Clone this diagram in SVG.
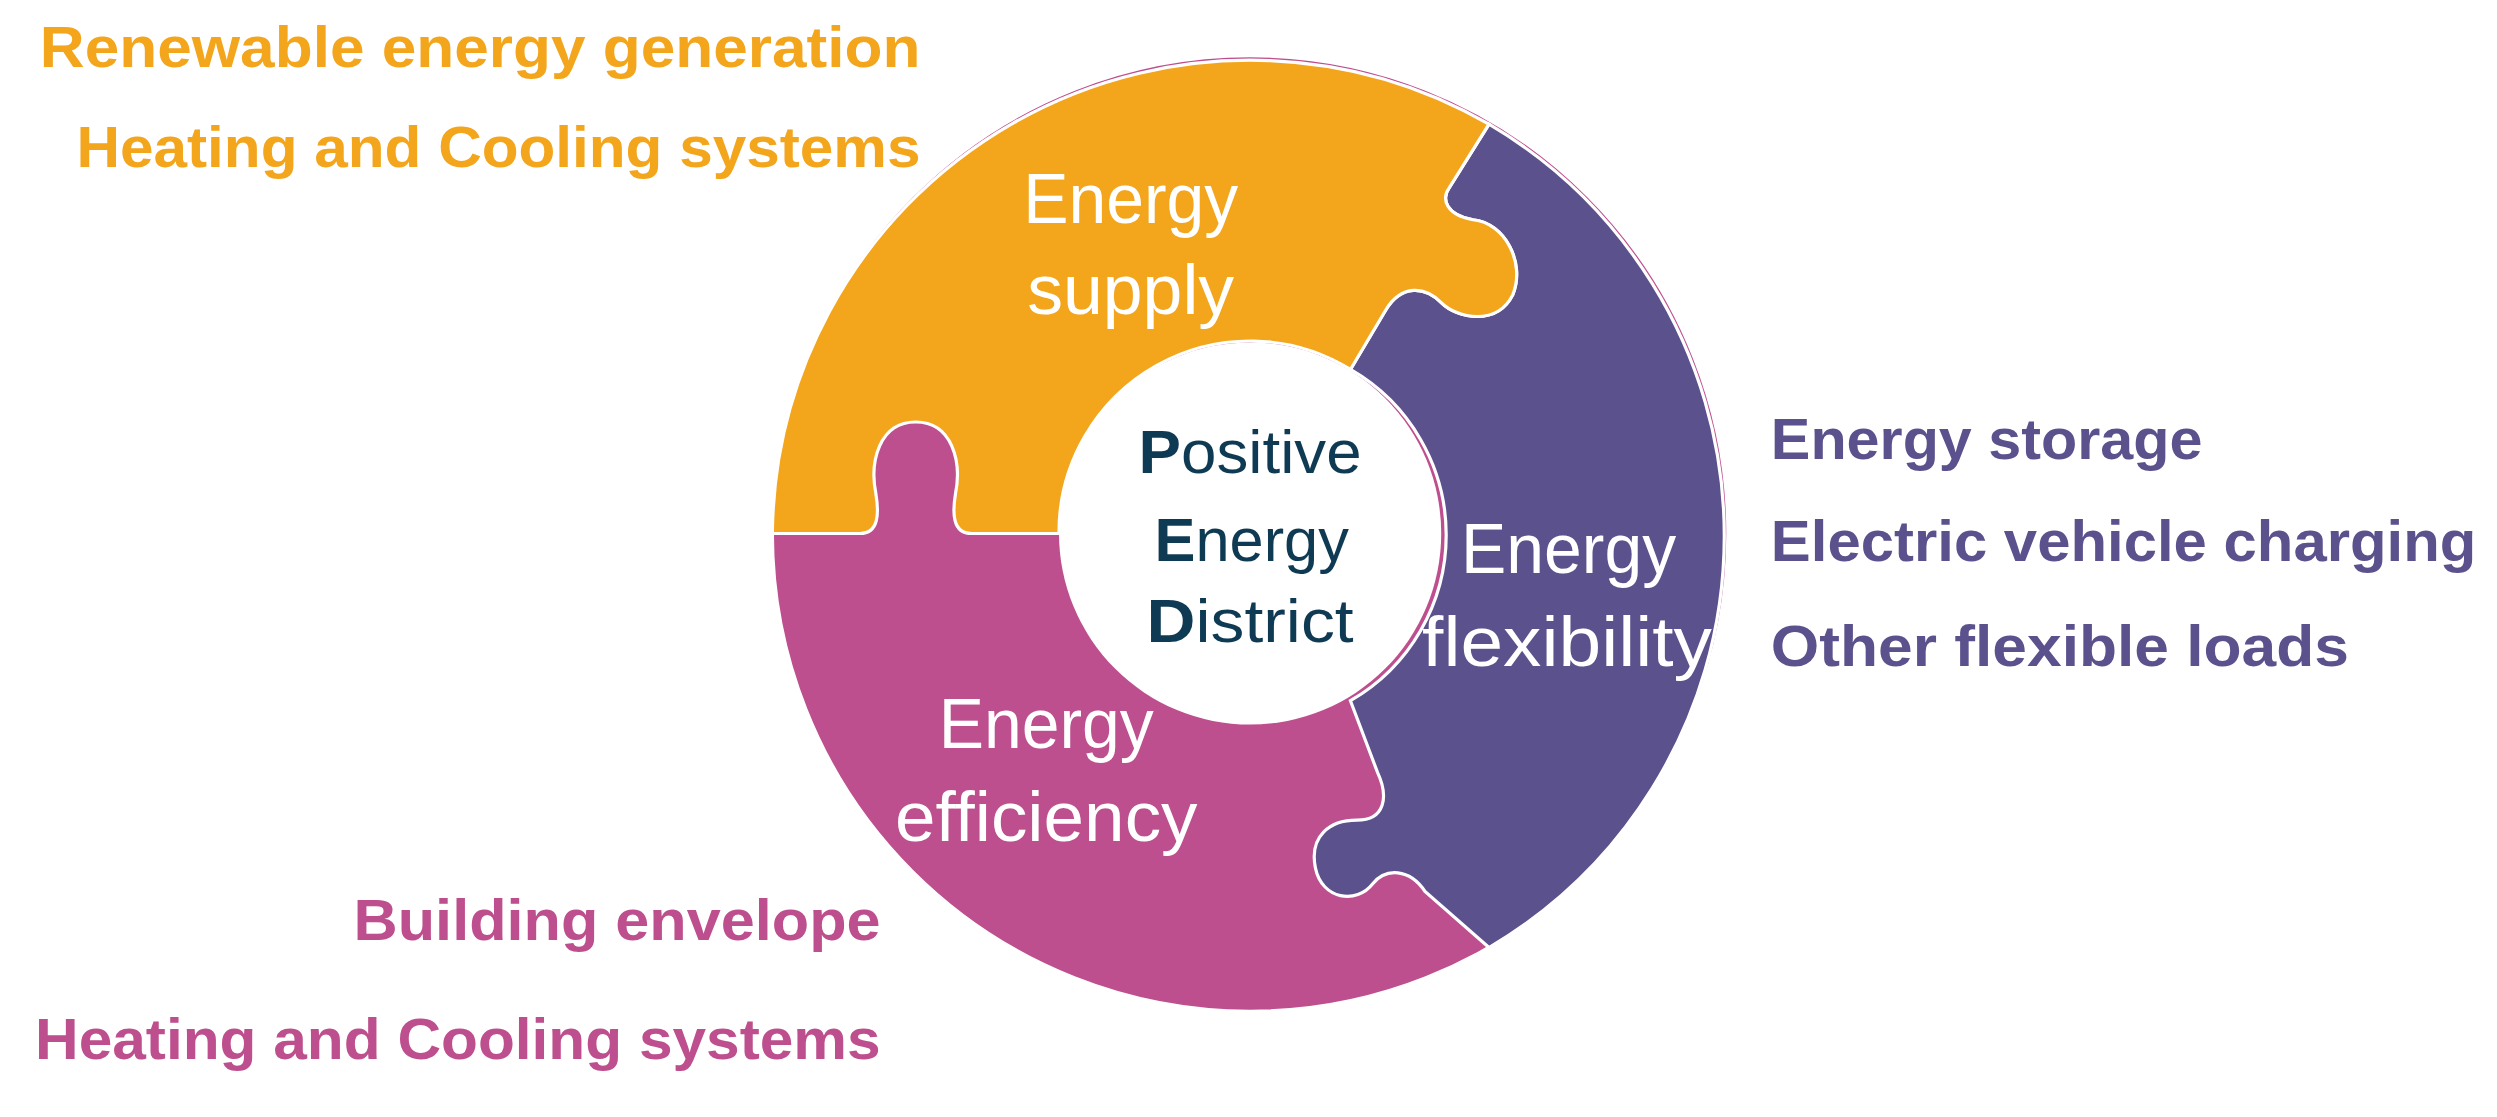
<svg xmlns="http://www.w3.org/2000/svg" width="2497" height="1117" viewBox="0 0 2497 1117">
<style>
.lbl{font-family:"Liberation Sans",Arial,sans-serif;font-weight:bold;font-size:36px}
.or{fill:#F3A51B}.pu{fill:#5B518C}.pk{fill:#BE4F8E}
.w{font-family:"Liberation Sans",Arial,sans-serif;font-size:44px;fill:#fff;text-anchor:middle}
.c{font-family:"Liberation Sans",Arial,sans-serif;font-size:38px;fill:#0E3A53;text-anchor:middle}
.piece{stroke:#fff;stroke-width:2}
</style>
<rect width="2497" height="1117" fill="#fff"/>
<g transform="scale(1.5925)">
<g id="efficiency"><circle class="piece" cx="785" cy="335" r="300" fill="#BE4F8E"/></g>
<g id="flexibility"><path class="piece" fill="#5B518C" d="M848,232 L870,195 C880,178 895,180 905,190 C915,200 940,205 950,185 C958,165 945,140 925,138 C908,135 905,125 910,118 L935,78 A300,300 0 0 1 935,595 L895,560 C885,545 870,545 862,555 C852,568 830,565 826,545 C822,525 835,515 852,515 C870,515 872,500 865,485 L848,440 A120,120 0 0 0 848,232 Z"/></g>
<g id="supply"><path class="piece" fill="#F3A51B" d="M485,335 L540,335 C552,335 552,322 550,310 C546,290 552,265 575,265 C598,265 604,290 600,310 C598,322 598,335 610,335 L665,335 A120,120 0 0 1 848,232 L870,195 C880,178 895,180 905,190 C915,200 940,205 950,185 C958,165 945,140 925,138 C908,135 905,125 910,118 L935,78 A300,300 0 0 0 485,335 Z"/></g>
<g id="ped"><circle cx="785" cy="335" r="120" fill="#fff"/>
<text class="c" x="785" y="297" textLength="140" lengthAdjust="spacingAndGlyphs"><tspan font-weight="bold">P</tspan>ositive</text>
<text class="c" x="786" y="352" textLength="122" lengthAdjust="spacingAndGlyphs"><tspan font-weight="bold">E</tspan>nergy</text>
<text class="c" x="785" y="403" textLength="130" lengthAdjust="spacingAndGlyphs"><tspan font-weight="bold">D</tspan>istrict</text>
</g>
<g id="labels-w">
<text class="w" x="710" y="140" textLength="135" lengthAdjust="spacingAndGlyphs">Energy</text>
<text class="w" x="710" y="197" textLength="130" lengthAdjust="spacingAndGlyphs">supply</text>
<text class="w" x="985" y="360" textLength="135" lengthAdjust="spacingAndGlyphs">Energy</text>
<text class="w" x="984" y="418" textLength="182" lengthAdjust="spacingAndGlyphs">flexibility</text>
<text class="w" x="657" y="470" textLength="135" lengthAdjust="spacingAndGlyphs">Energy</text>
<text class="w" x="657" y="528" textLength="190" lengthAdjust="spacingAndGlyphs">efficiency</text>
</g>
<g id="side">
<text class="lbl or" x="25" y="42" textLength="553" lengthAdjust="spacingAndGlyphs">Renewable energy generation</text>
<text class="lbl or" x="48" y="105" textLength="530" lengthAdjust="spacingAndGlyphs">Heating and Cooling systems</text>
<text class="lbl pu" x="1112" y="288" textLength="271" lengthAdjust="spacingAndGlyphs">Energy storage</text>
<text class="lbl pu" x="1112" y="352" textLength="443" lengthAdjust="spacingAndGlyphs">Electric vehicle charging</text>
<text class="lbl pu" x="1112" y="418" textLength="363" lengthAdjust="spacingAndGlyphs">Other flexible loads</text>
<text class="lbl pk" x="222" y="590" textLength="331" lengthAdjust="spacingAndGlyphs">Building envelope</text>
<text class="lbl pk" x="22" y="665" textLength="531" lengthAdjust="spacingAndGlyphs">Heating and Cooling systems</text>
</g>
</g>
</svg>
